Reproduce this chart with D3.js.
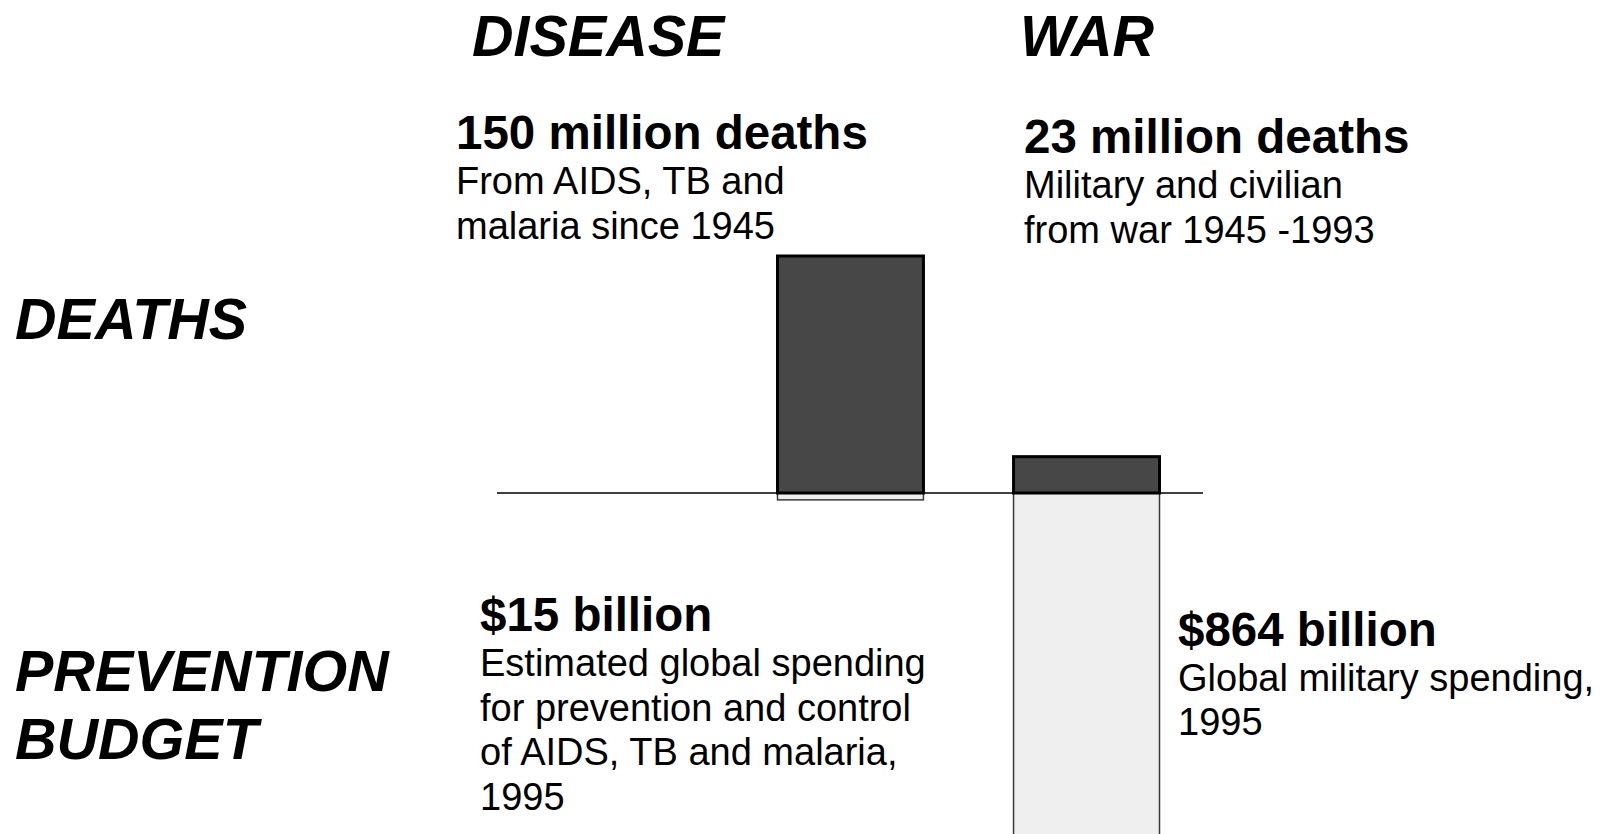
<!DOCTYPE html>
<html>
<head>
<meta charset="utf-8">
<script src="https://cdn.jsdelivr.net/npm/d3@7"></script>
<style>
  body { margin: 0; background: #fff; }
  svg text { font-family: "Liberation Sans", Arial, sans-serif; fill: #000; }
</style>
</head>
<body>
<svg width="1600" height="834"></svg>
<script>
// data
var categories = ["DISEASE", "WAR"];
var deaths = [150, 23];        // million deaths
var spending = [15, 864];      // billion dollars
var rowLabels = ["DEATHS", "PREVENTION\nBUDGET"];
var deathHeads = ["150 million deaths", "23 million deaths"];
var deathNotes = [["From AIDS, TB and", "malaria since 1945"], ["Military and civilian", "from war 1945 -1993"]];
var spendHeads = ["$15 billion", "$864 billion"];
var spendNotes = [["Estimated global spending", "for prevention and control", "of AIDS, TB and malaria,", "1995"], ["Global military spending,", "1995"]];

var svg = d3.select("svg"),
    base = 493;

var x = d3.scaleBand()
    .domain(categories)
    .range([776, 1161])
    .paddingInner(0.369)
    .paddingOuter(0);

var yTop = d3.scaleLinear().domain([0, 150]).range([base, 256]);
var yBot = d3.scaleLinear().domain([0, 864]).range([base, base + 396]);

// spending bars (below the line)
svg.selectAll(".spend")
    .data(categories)
  .enter().append("rect")
    .attr("class", "spend")
    .attr("x", function(d) { return x(d) + 1.5; })
    .attr("width", x.bandwidth() - 3)
    .attr("y", base)
    .attr("height", function(d, i) { return yBot(spending[i]) - base; })
    .style("fill", "#efefef")
    .style("stroke", "#3a3a3a")
    .style("stroke-width", 1.5);

// baseline
svg.append("line")
    .attr("x1", 497).attr("x2", 1203)
    .attr("y1", base).attr("y2", base)
    .style("stroke", "#000")
    .style("stroke-width", 1.5);

// death bars (above the line)
svg.selectAll(".death")
    .data(categories)
  .enter().append("rect")
    .attr("class", "death")
    .attr("x", function(d) { return x(d) + 1.5; })
    .attr("width", x.bandwidth() - 3)
    .attr("y", function(d, i) { return yTop(deaths[i]); })
    .attr("height", function(d, i) { return base - yTop(deaths[i]); })
    .style("fill", "#474747")
    .style("stroke", "#000")
    .style("stroke-width", 3);

// column titles
var colX = [472, 1020];
svg.selectAll(".coltitle")
    .data(categories)
  .enter().append("text")
    .attr("x", function(d, i) { return colX[i]; })
    .attr("y", 56)
    .style("font-size", "57.5px")
    .style("font-weight", "bold")
    .style("font-style", "italic")
    .text(function(d) { return d; });

// row titles
svg.append("text")
    .attr("x", 15).attr("y", 339)
    .style("font-size", "57.5px").style("font-weight", "bold").style("font-style", "italic")
    .text(rowLabels[0]);
svg.append("text")
    .attr("x", 15).attr("y", 691)
    .style("font-size", "57.5px").style("font-weight", "bold").style("font-style", "italic")
    .selectAll("tspan")
    .data(rowLabels[1].split("\n"))
  .enter().append("tspan")
    .attr("x", 15)
    .attr("dy", function(d, i) { return i ? 68 : 0; })
    .text(function(d) { return d; });

// annotation blocks
function block(x0, y0, head, lines, lineGap) {
  svg.append("text")
    .attr("x", x0).attr("y", y0)
    .style("font-size", "47.5px").style("font-weight", "bold")
    .text(head);
  svg.append("text")
    .attr("x", x0).attr("y", y0 + 45)
    .style("font-size", "38px")
    .selectAll("tspan")
    .data(lines)
  .enter().append("tspan")
    .attr("x", x0)
    .attr("dy", function(d, i) { return i ? lineGap : 0; })
    .text(function(d) { return d; });
}

block(456, 149, deathHeads[0], deathNotes[0], 45);
block(1024, 153, deathHeads[1], deathNotes[1], 45);
block(480, 631, spendHeads[0], spendNotes[0], 44.5);
block(1178, 646, spendHeads[1], spendNotes[1], 44);
</script>
</body>
</html>
